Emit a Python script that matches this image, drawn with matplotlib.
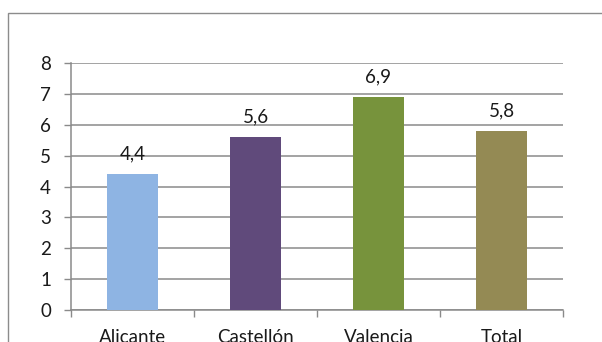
import matplotlib
matplotlib.use("Agg")
import matplotlib.pyplot as plt
from matplotlib.patches import Rectangle

provincias = ["Alicante", "Castellón", "Valencia", "Total"]
valores = [4.4, 5.6, 6.9, 5.8]
colores = ["#8EB4E3", "#604A7B", "#77933C", "#948A54"]
yticks = [0, 1, 2, 3, 4, 5, 6, 7, 8]

W, H = 602, 342
plt.rcParams["font.family"] = ["Lato", "DejaVu Sans"]
gris = "#8a8a8a"
texto = "#1a1a1a"
fs = 13.5

fig = plt.figure(figsize=(W / 100, H / 100), dpi=100)
# plot area in pixel terms: axis at x=71..563, y=63..310
ax = fig.add_axes([71 / W, 1 - 310 / H, (563 - 71) / W, (310 - 63) / H])

x = range(len(provincias))
barras = ax.bar(x, valores, width=0.41, color=colores, zorder=3)

for b, v in zip(barras, valores):
    ax.annotate(f"{v:.1f}".replace(".", ","),
                xy=(b.get_x() + b.get_width() / 2, v),
                xytext=(0, 10.8), textcoords="offset points",
                ha="center", va="baseline", fontsize=fs, color=texto)

ax.set_xlim(-0.5, 3.5)
ax.set_ylim(0, 8)
ax.set_yticks(yticks)
ax.set_xticks([-0.5, 0.5, 1.5, 2.5, 3.5])
ax.set_xticklabels([])
ax.set_xticks(list(x), minor=True)
ax.set_xticklabels(provincias, minor=True)
ax.tick_params(axis="x", which="minor", length=0, pad=14, labelsize=fs, labelcolor=texto)
ax.tick_params(axis="x", which="major", length=5, width=1, color=gris)
ax.tick_params(axis="y", length=5, width=1, color=gris, pad=9.4, labelsize=fs, labelcolor=texto)

ax.yaxis.grid(True, color=gris, linewidth=1.1, zorder=0)
ax.set_axisbelow(True)
for s in ["top", "right"]:
    ax.spines[s].set_visible(False)
for s in ["left", "bottom"]:
    ax.spines[s].set_color(gris)
    ax.spines[s].set_linewidth(1.1)

# outer chart frame, cut off on the right and bottom
fig.patches.append(Rectangle((8 / W, -0.5), 2, 1 - 13 / H + 0.5,
                             transform=fig.transFigure, fill=False,
                             edgecolor="#8c8c8c", linewidth=1.0))

fig.savefig("out.png", dpi=100)
